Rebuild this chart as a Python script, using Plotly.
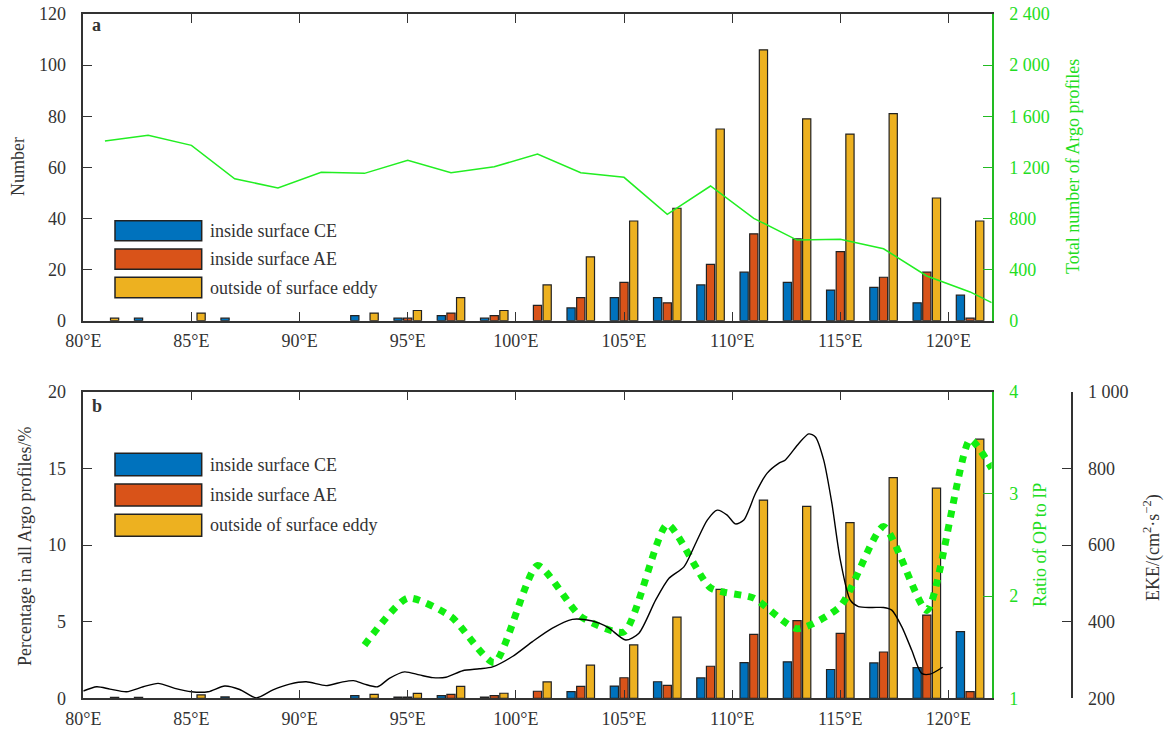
import plotly.graph_objects as go

W, H = 1167, 729

# ---------------- data ----------------
lon = [81, 83, 85, 87, 89, 91, 93, 95, 97, 99, 101, 103, 105, 107, 109, 111, 113, 115, 117, 119, 121]

# panel a: numbers of profiles (None = no bar drawn)
num_ce = [None, 1, None, 1, None, None, 2, 1, 2, 1, None, 5, 9, 9, 14, 19, 15, 12, 13, 7, 10]
num_ae = [None, None, None, None, None, None, None, 1, 3, 2, 6, 9, 15, 7, 22, 34, 32, 27, 17, 19, 1]
num_op = [1, None, 3, None, None, None, 3, 4, 9, 4, 14, 25, 39, 44, 75, 106, 79, 73, 81, 48, 39]

lon_total = [81, 83, 85, 87, 89, 91, 93, 95, 97, 99, 101, 103, 105, 107, 109, 111, 113, 115, 117, 119, 121, 122]
total_argo = [1406, 1451, 1372, 1111, 1038, 1161, 1153, 1255, 1158, 1205, 1304, 1158, 1122, 832, 1054, 801,
              631, 637, 563, 350, 225, 141]

# panel b: percentages in all Argo profiles
pct_ce = [None, 0.07, None, 0.09, None, None, 0.17, 0.08, 0.17, 0.08, None, 0.43, 0.80, 1.08, 1.33, 2.33, 2.38,
          1.88, 2.31, 2.00, 4.35]
pct_ae = [None, None, None, None, None, None, None, 0.08, 0.26, 0.17, 0.46, 0.78, 1.34, 0.84, 2.09, 4.17, 5.07,
          4.24, 3.02, 5.43, 0.44]
pct_op = [0.07, None, 0.22, None, None, None, 0.26, 0.32, 0.78, 0.33, 1.07, 2.16, 3.48, 5.29, 7.11, 12.93, 12.52,
          11.46, 14.39, 13.71, 16.9]

lon_ratio = [93, 95, 97, 99, 101, 103, 105, 107, 109, 111, 113, 115, 117, 119, 121, 122]
ratio_op_ip = [1.52, 1.98, 1.80, 1.35, 2.30, 1.80, 1.65, 2.70, 2.08, 1.98, 1.68, 1.90, 2.68, 1.86, 3.53, 3.25]

lon_eke = [80.0, 80.62, 81.23, 82.0, 82.77, 83.46, 84.23, 85.0, 85.77, 86.54, 87.23, 88.0, 88.77, 89.54, 90.31,
           91.23, 92.0, 92.5, 93.0, 93.61, 94.15, 94.85, 95.54, 96.15, 96.77, 97.54, 98.31, 98.92, 99.84, 100.77,
           101.69, 102.61, 103.23, 103.85, 104.31, 105.08, 105.69, 106.46, 107.08, 107.77, 108.31, 108.85, 109.31,
           109.77, 110.15, 110.54, 111.08, 111.61, 112.15, 112.46, 113.08, 113.54, 113.85, 114.23, 114.61, 115.0,
           115.46, 115.84, 116.46, 117.0, 117.38, 117.84, 118.3, 118.76, 119.15, 119.73]
eke = [219, 230, 224, 217, 230, 239, 226, 217, 217, 232, 223, 201, 222, 237, 243,
       233, 243, 246, 237, 230, 252, 269, 261, 254, 255, 272, 277, 282, 309, 348,
       383, 406, 405, 396, 383, 352, 370, 456, 513, 543, 604, 665, 691,
       678, 655, 665, 735, 787, 813, 822, 865, 890, 882, 822, 709, 561,
       456, 439, 437, 437, 430, 387, 326, 265, 263, 281]

x_tickvals = [80, 85, 90, 95, 100, 105, 110, 115, 120]
x_ticktext = ["80°E", "85°E", "90°E", "95°E", "100°E", "105°E", "110°E", "115°E", "120°E"]
tot_tickvals = [0, 400, 800, 1200, 1600, 2000, 2400]
tot_ticktext = ["0", "400", "800", "1 200", "1 600", "2 000", "2 400"]
eke_tickvals = [200, 400, 600, 800, 1000]
eke_ticktext = ["200", "400", "600", "800", "1 000"]
series_names = ["inside surface CE", "inside surface AE", "outside of surface eddy"]

# ---------------- style ----------------
C_CE, C_AE, C_OP = "#0072BD", "#D95319", "#EDB120"
GREEN_LINE = "#22EE22"
GREEN_DOT = "#11EE11"
GREEN_TXT = "#22DD22"
GREEN_AX = "#22BB22"
AX = "#333333"
FONT = "Liberation Serif, Times New Roman, serif"


def px(x):
    return x / W


def py(y):
    return 1 - y / H


XD = [px(83.3), px(991.7)]
YD_A = [py(320.7), py(14)]
YD_B = [py(698.3), py(391.7)]

fig = go.Figure()

bar_line = dict(color="#222222", width=1.2)
for vals, col, name in zip([num_ce, num_ae, num_op], [C_CE, C_AE, C_OP], series_names):
    fig.add_trace(go.Bar(x=lon, y=vals, name=name, marker=dict(color=col, line=bar_line),
                         xaxis="x", yaxis="y", showlegend=False))
fig.add_trace(go.Scatter(x=lon_total, y=total_argo, mode="lines", line=dict(color=GREEN_LINE, width=1.5),
                         xaxis="x", yaxis="y2", showlegend=False, name="Total"))

for vals, col, name in zip([pct_ce, pct_ae, pct_op], [C_CE, C_AE, C_OP], series_names):
    fig.add_trace(go.Bar(x=lon, y=vals, name=name, marker=dict(color=col, line=bar_line),
                         xaxis="x2", yaxis="y3", showlegend=False))
fig.add_trace(go.Scatter(x=lon_ratio, y=ratio_op_ip, mode="lines",
                         line=dict(color=GREEN_DOT, width=7, dash="dot", shape="spline", smoothing=0.6),
                         xaxis="x2", yaxis="y4", showlegend=False, name="Ratio"))
fig.add_trace(go.Scatter(x=lon_eke, y=eke, mode="lines",
                         line=dict(color="black", width=1.4, shape="spline", smoothing=0.7),
                         xaxis="x2", yaxis="y5", showlegend=False, name="EKE"))

xcommon = dict(domain=XD, range=[80, 122], tickvals=x_tickvals, ticktext=x_ticktext, ticks="inside",
               ticklen=9, tickcolor=AX, mirror="ticks", showline=True, linecolor=AX, linewidth=1.5,
               showgrid=False, zeroline=False, ticklabelstandoff=3, automargin=False,
               tickfont=dict(family=FONT, size=18, color=AX))
yleft = dict(ticks="inside", ticklen=9, tickcolor=AX, showline=True, linecolor=AX, linewidth=1.5,
             showgrid=False, zeroline=False, ticklabelstandoff=12, automargin=False,
             tickfont=dict(family=FONT, size=18, color=AX))
ygreen = dict(side="right", ticks="inside", ticklen=9, tickcolor=GREEN_AX, showline=True,
              linecolor=GREEN_AX, linewidth=1.8, showgrid=False, zeroline=False, ticklabelstandoff=12,
              automargin=False, tickfont=dict(family=FONT, size=18, color=GREEN_TXT))

fig.update_layout(
    width=W, height=H, margin=dict(l=0, r=0, t=0, b=0, pad=0, autoexpand=False),
    paper_bgcolor="white", plot_bgcolor="white",
    font=dict(family=FONT, size=18, color=AX),
    barmode="group", bargap=0.33, bargroupgap=0.15,
    xaxis=dict(**xcommon, anchor="y"),
    yaxis=dict(**yleft, domain=YD_A, range=[0, 120], dtick=20, anchor="x"),
    yaxis2=dict(**ygreen, overlaying="y", anchor="x", range=[0, 2400],
                tickvals=tot_tickvals, ticktext=tot_ticktext),
    xaxis2=dict(**xcommon, anchor="y3"),
    yaxis3=dict(**yleft, domain=YD_B, range=[0, 20], dtick=5, anchor="x2"),
    yaxis4=dict(**ygreen, overlaying="y3", anchor="x2", range=[1, 4], dtick=1),
    yaxis5=dict(overlaying="y3", side="right", anchor="free", position=px(1071.7), range=[200, 1000],
                tickvals=eke_tickvals, ticktext=eke_ticktext, ticks="inside", ticklen=9, tickcolor=AX,
                showline=True, linecolor=AX, linewidth=1.5, showgrid=False, zeroline=False,
                ticklabelstandoff=12, automargin=False, tickfont=dict(family=FONT, size=18, color=AX)),
)

# legends drawn as boxes + text (both panels)
shapes = []
annotations = []
legend_boxes = [
    [(220.7, 240.7), (249.0, 269.3), (277.3, 297.7)],
    [(453.3, 475.7), (484.0, 506.0), (514.3, 536.3)],
]
for boxes in legend_boxes:
    for (y0, y1), col, name in zip(boxes, [C_CE, C_AE, C_OP], series_names):
        shapes.append(dict(type="rect", xref="paper", yref="paper", x0=px(115), x1=px(201.7),
                           y0=py(y1), y1=py(y0), fillcolor=col, line=dict(color="#222222", width=1.5)))
        annotations.append(dict(text=name, xref="paper", yref="paper", x=px(208), y=py((y0 + y1) / 2),
                                xanchor="left", yanchor="middle", showarrow=False,
                                font=dict(family=FONT, size=18, color=AX)))

titles = [
    ("Number", 18, 167, AX),
    ("Total number of Argo profiles", 1073, 167, GREEN_TXT),
    ("Percentage in all Argo profiles/%", 25, 546, AX),
    ("Ratio of OP to IP", 1040, 545, GREEN_TXT),
    ("EKE/(cm<sup>2</sup>·s<sup>−2</sup>)", 1152, 548, AX),
]
for t, x, y, c in titles:
    annotations.append(dict(text=t, xref="paper", yref="paper", x=px(x), y=py(y), xanchor="center",
                            yanchor="middle", textangle=-90, showarrow=False,
                            font=dict(family=FONT, size=18, color=c)))

for t, x, y in [("a", 96, 25), ("b", 97, 406)]:
    annotations.append(dict(text="<b>%s</b>" % t, xref="paper", yref="paper", x=px(x), y=py(y),
                            xanchor="center", yanchor="middle", showarrow=False,
                            font=dict(family=FONT, size=18, color=AX)))

fig.update_layout(shapes=shapes, annotations=annotations)
fig.write_html("out.html")
